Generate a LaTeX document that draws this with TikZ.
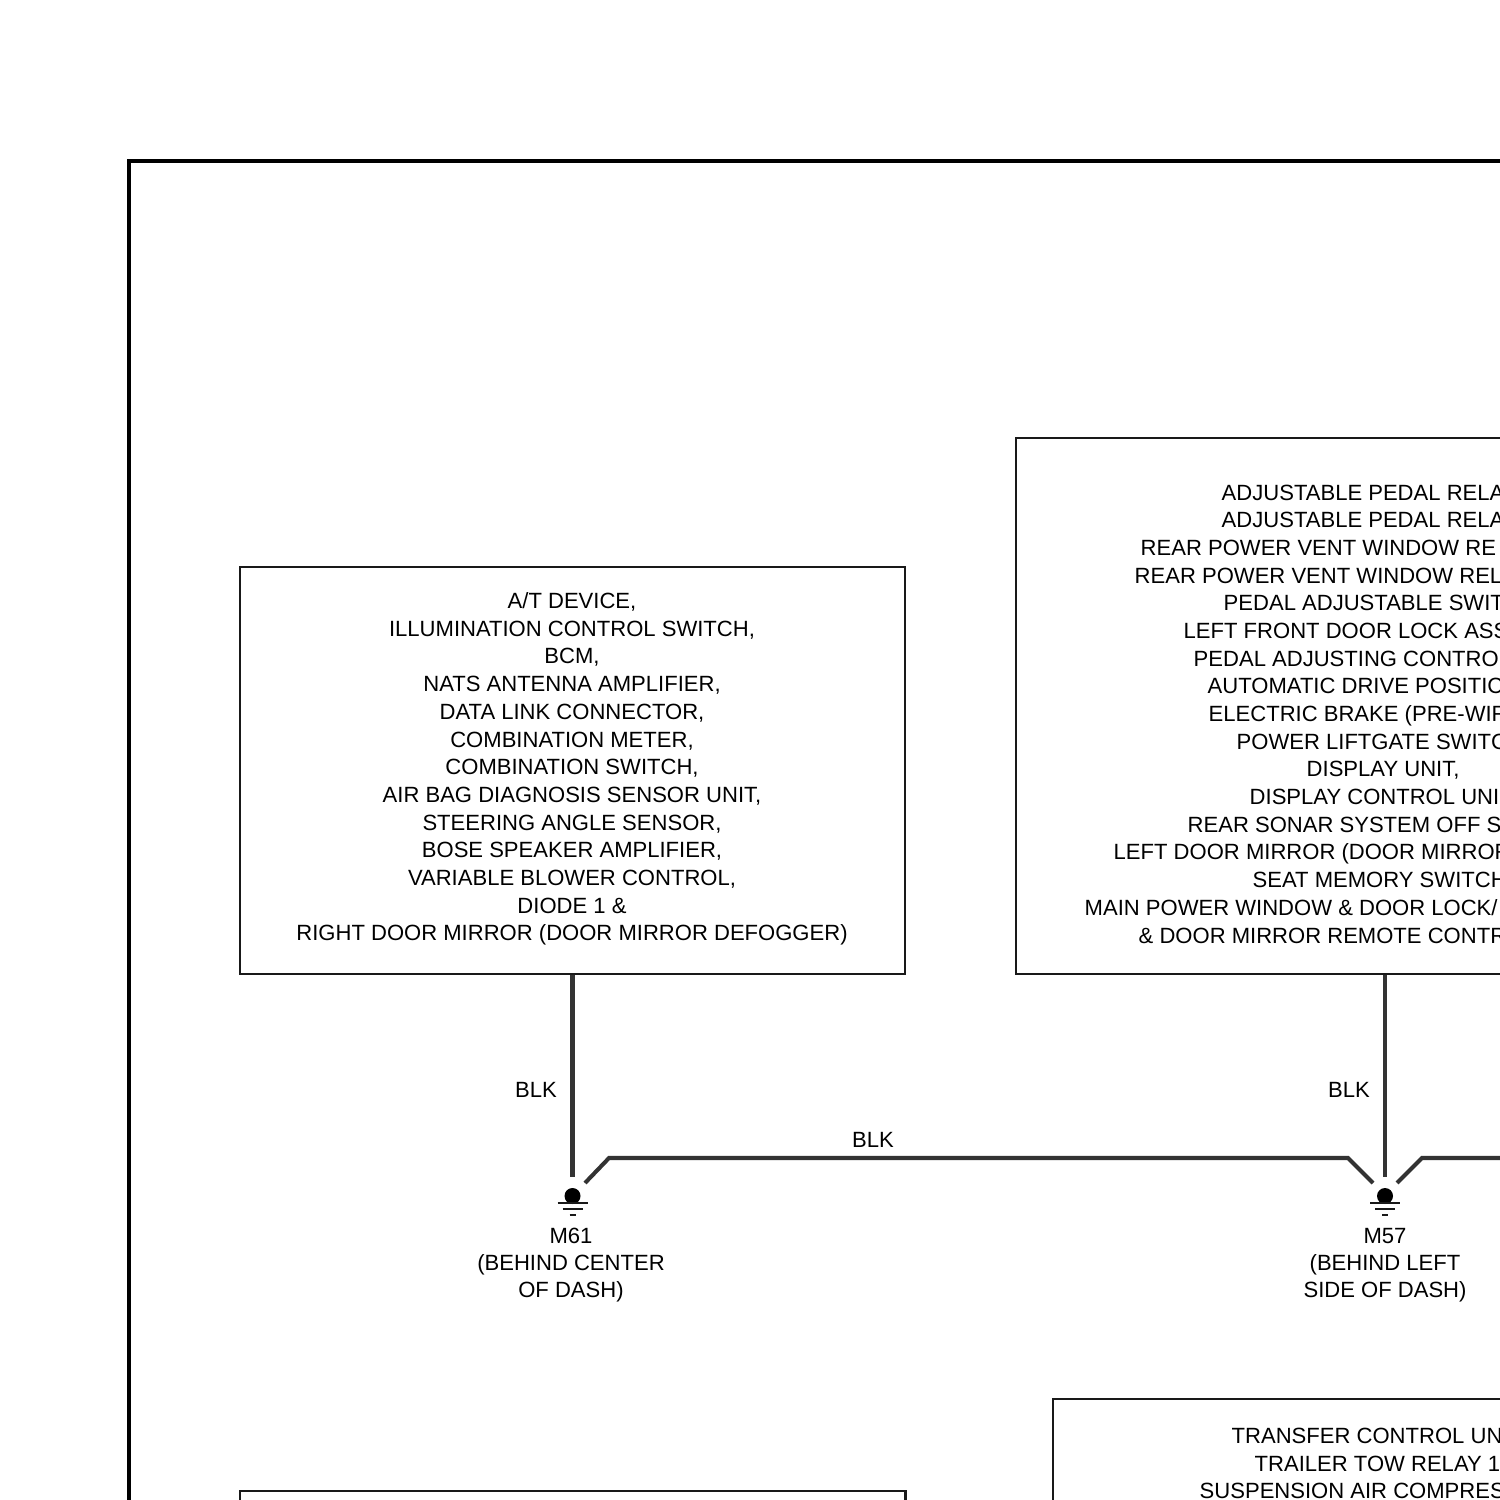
\documentclass[tikz,border=0pt]{standalone}
\usepackage{fontspec}
\setmainfont{Liberation Sans}
\tikzset{
	legend/.style={font=\fontsize{6.27}{7.88}\selectfont, align=center, inner sep=0pt},
	cutline/.style={font=\fontsize{6.27}{7.88}\selectfont, anchor=base west, inner sep=0pt},
	unitbox/.style={draw=black!90, line width=0.6pt, inner sep=0pt},
	wire/.style={draw=black!80, line width=1.15pt},
	earthbar/.style={draw=black!90, line width=0.5pt}
}
\begin{document}
\begin{tikzpicture}[x=0.01cm,y=-0.01cm]
	\useasboundingbox (0,0) rectangle (1500,1500);
	\clip (0,0) rectangle (1500,1500);
	\draw[black, line width=1.15pt, line cap=rect] (129,1600) -- (129,161) -- (1600,161);

	\node[unitbox, minimum width=6.65cm, minimum height=4.07cm] (unitA) at (572.5,770.5) {};
	\node[unitbox, minimum width=7.38cm, minimum height=5.36cm] (unitB) at (1385,706) {};
	\node[unitbox, anchor=north west, minimum width=8cm, minimum height=6cm] (unitC) at (1052,1398) {};
	\node[unitbox, anchor=north west, minimum width=6.65cm, minimum height=3cm] (unitD) at (239,1490) {};

	\node[legend] (textA) at (572,769) {A/T DEVICE,\\ILLUMINATION CONTROL SWITCH,\\BCM,\\NATS ANTENNA AMPLIFIER,\\DATA LINK CONNECTOR,\\COMBINATION METER,\\COMBINATION SWITCH,\\AIR BAG DIAGNOSIS SENSOR UNIT,\\STEERING ANGLE SENSOR,\\BOSE SPEAKER AMPLIFIER,\\VARIABLE BLOWER CONTROL,\\DIODE 1 \&\\RIGHT DOOR MIRROR (DOOR MIRROR DEFOGGER)};

	\foreach \x/\txt [count=\n from 0] in {
		1221/{ADJUSTABLE PEDAL RELA},
		1221/{ADJUSTABLE PEDAL RELA},
		1140/{REAR POWER VENT WINDOW RE},
		1134/{REAR POWER VENT WINDOW REL},
		1223/{PEDAL ADJUSTABLE SWIT},
		1183/{LEFT FRONT DOOR LOCK ASS},
		1193/{PEDAL ADJUSTING CONTRO},
		1207/{AUTOMATIC DRIVE POSITIC},
		1208/{ELECTRIC BRAKE (PRE-WIR},
		1236/{POWER LIFTGATE SWITC},
		1306/{DISPLAY UNIT,},
		1249/{DISPLAY CONTROL UNI},
		1187/{REAR SONAR SYSTEM OFF S},
		1113/{LEFT DOOR MIRROR (DOOR MIRROR},
		1252/{SEAT MEMORY SWITCH},
		1084/{MAIN POWER WINDOW \& DOOR LOCK/},
		1138/{\& DOOR MIRROR REMOTE CONTR}}
		\node[cutline] (textB\n) at (\x,500+27.69*\n) {\txt};

	\node[cutline] (textC0) at (1231,1443) {TRANSFER CONTROL UN};
	\node[cutline] (textC1) at (1254,1471) {TRAILER TOW RELAY 1};
	\node[cutline] (textC2) at (1199,1498) {SUSPENSION AIR COMPRES};

	\node[circle, fill=black, inner sep=0pt, minimum size=0.16cm] (earthA) at (572.5,1196) {};
	\node[circle, fill=black, inner sep=0pt, minimum size=0.16cm] (earthB) at (1385,1196) {};
	\foreach \e in {572.5,1385} {
		\draw[earthbar] (\e-15,1203) -- (\e+15,1203);
		\draw[earthbar] (\e-10,1209) -- (\e+10,1209);
		\draw[earthbar] (\e-3,1215) -- (\e+3,1215);
	}

	\coordinate (tapA) at (585,1183);
	\coordinate (bendA) at (609,1158);
	\coordinate (bendB) at (1348,1158);
	\coordinate (tapB) at (1373,1183);
	\coordinate (tapC) at (1397,1183);
	\coordinate (bendC) at (1422,1158);
	\coordinate (wireend) at (1600,1158);

	\draw[wire, shorten >=2.8pt] (unitA.south) -- (earthA.north);
	\draw[wire, shorten >=2.8pt] (unitB.south) -- (earthB.north);
	\draw[wire] (tapA) -- (bendA) -- (bendB) -- (tapB);
	\draw[wire] (tapC) -- (bendC) -- (wireend);

	\node[legend] (colorA) at (536,1090) {BLK};
	\node[legend] (colorB) at (873,1140) {BLK};
	\node[legend] (colorC) at (1349,1090) {BLK};

	\node[legend] (placeA) at (571,1265.5) {M61\\[-0.2pt](BEHIND CENTER\\[-0.2pt]OF DASH)};
	\node[legend] (placeB) at (1385,1265.5) {M57\\[-0.2pt](BEHIND LEFT\\[-0.2pt]SIDE OF DASH)};
\end{tikzpicture}
\end{document}
